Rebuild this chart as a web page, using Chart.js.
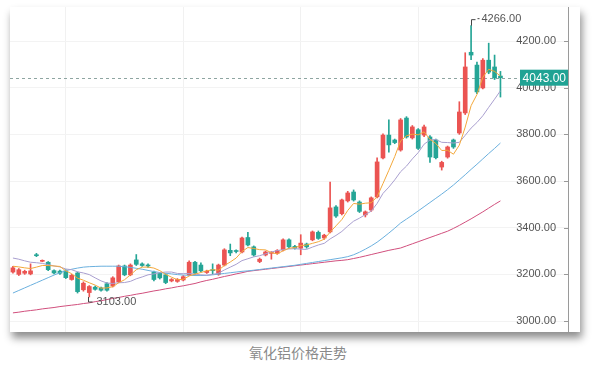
<!DOCTYPE html>
<html>
  <head>
    <meta charset="utf-8" />
    <title>氧化铝价格走势</title>
    <script src="https://cdn.jsdelivr.net/npm/chart.js"></script>
    <style>
      body {
        margin: 0;
        width: 596px;
        height: 369px;
        background: #fff;
        position: relative;
        overflow: hidden;
      }
      .card {
        position: absolute;
        left: 10px;
        top: 7px;
        width: 570px;
        height: 325px;
        background: #fff;
        box-shadow: 2px 6px 8px rgba(0, 0, 0, 0.45);
      }
      .caption {
        position: absolute;
        left: 0;
        width: 596px;
        top: 342px;
        text-align: center;
        font-family: 'Noto Sans CJK SC', sans-serif;
        font-size: 14px;
        color: #8a8a8a;
      }
    </style>
  </head>
  <body>
    <div class="card">
      <canvas id="priceChart" width="570" height="325"></canvas>
    </div>
    <div class="caption">氧化铝价格走势</div>

    <script>
      // daily candles
      const open = [3210, 3200, 3205, 3202, 3284, 3256, 3252, 3216, 3214, 3215, 3178, 3206, 3134, 3122, 3145, 3142, 3160, 3150, 3168, 3236, 3198, 3262, 3245, 3240, 3210, 3205, 3198, 3172, 3170, 3176, 3198, 3252, 3240, 3208, 3220, 3200, 3240, 3303, 3300, 3296, 3358, 3318, 3255, 3283, 3290, 3290, 3305, 3348, 3320, 3312, 3330, 3348, 3380, 3356, 3382, 3489, 3460, 3515, 3553, 3510, 3455, 3476, 3532, 3699, 3797, 3776, 3733, 3870, 3785, 3820, 3797, 3789, 3776, 3660, 3703, 3776, 3806, 3892, 4152, 4097, 3999, 4118, 4089, 4050];
      const high = [3235, 3225, 3218, 3245, 3290, 3262, 3255, 3220, 3218, 3220, 3200, 3210, 3168, 3152, 3150, 3146, 3165, 3190, 3240, 3240, 3245, 3285, 3250, 3245, 3214, 3208, 3203, 3182, 3182, 3195, 3258, 3256, 3250, 3218, 3245, 3244, 3310, 3330, 3305, 3360, 3380, 3322, 3270, 3300, 3298, 3306, 3352, 3352, 3325, 3370, 3334, 3386, 3386, 3372, 3596, 3495, 3523, 3556, 3562, 3515, 3472, 3532, 3700, 3802, 3862, 3780, 3868, 3876, 3838, 3825, 3840, 3795, 3780, 3685, 3750, 3780, 3940, 4150, 4266, 4110, 4125, 4191, 4140, 4070];
      const low = [3205, 3195, 3200, 3198, 3276, 3254, 3216, 3202, 3200, 3182, 3175, 3120, 3128, 3103, 3132, 3128, 3128, 3146, 3164, 3194, 3194, 3238, 3234, 3230, 3172, 3180, 3160, 3168, 3166, 3172, 3194, 3200, 3210, 3204, 3200, 3196, 3236, 3280, 3292, 3292, 3322, 3278, 3250, 3279, 3265, 3286, 3300, 3312, 3308, 3284, 3312, 3344, 3350, 3350, 3378, 3444, 3455, 3510, 3514, 3465, 3446, 3470, 3528, 3695, 3724, 3760, 3728, 3784, 3780, 3735, 3790, 3680, 3695, 3647, 3698, 3740, 3800, 3885, 4120, 3975, 3995, 4060, 4035, 3960];
      const close = [3228, 3220, 3213, 3215, 3280, 3260, 3220, 3206, 3205, 3186, 3196, 3126, 3162, 3148, 3136, 3132, 3132, 3185, 3236, 3198, 3240, 3243, 3238, 3236, 3178, 3185, 3165, 3178, 3178, 3190, 3252, 3205, 3215, 3214, 3216, 3240, 3305, 3292, 3298, 3356, 3326, 3283, 3265, 3296, 3294, 3302, 3348, 3318, 3312, 3334, 3318, 3382, 3354, 3368, 3485, 3450, 3519, 3549, 3519, 3470, 3468, 3528, 3682, 3797, 3755, 3765, 3862, 3789, 3832, 3740, 3832, 3703, 3700, 3680, 3746, 3746, 3896, 4089, 4140, 3982, 4118, 4067, 4042, 4043];

      // moving average lines
      const ma5 = [3235, 3232, 3228, 3225, 3231, 3238, 3238, 3236, 3234, 3215, 3203, 3184, 3175, 3164, 3154, 3141, 3142, 3147, 3164, 3177, 3198, 3220, 3231, 3231, 3227, 3216, 3200, 3188, 3177, 3179, 3193, 3201, 3208, 3215, 3220, 3218, 3238, 3253, 3270, 3298, 3315, 3311, 3306, 3305, 3293, 3288, 3301, 3312, 3315, 3323, 3326, 3333, 3340, 3351, 3381, 3408, 3435, 3474, 3504, 3501, 3505, 3507, 3533, 3589, 3646, 3705, 3772, 3794, 3801, 3798, 3811, 3779, 3761, 3731, 3732, 3715, 3754, 3831, 3923, 3971, 4045, 4079, 4070, 4050];
      const ma10 = [3270, 3265, 3258, 3252, 3250, 3247, 3242, 3236, 3232, 3223, 3220, 3211, 3206, 3199, 3185, 3172, 3163, 3161, 3164, 3165, 3170, 3181, 3189, 3198, 3202, 3207, 3210, 3210, 3204, 3203, 3204, 3201, 3198, 3196, 3200, 3205, 3219, 3231, 3243, 3259, 3267, 3275, 3280, 3288, 3296, 3302, 3306, 3309, 3310, 3308, 3307, 3317, 3326, 3333, 3352, 3367, 3384, 3407, 3428, 3441, 3456, 3471, 3504, 3547, 3574, 3605, 3640, 3664, 3695, 3722, 3758, 3776, 3778, 3766, 3765, 3763, 3766, 3796, 3827, 3851, 3880, 3916, 3951, 3987];
      const ma20 = [3120, 3131, 3142, 3153, 3164, 3175, 3186, 3197, 3207, 3216, 3222, 3227, 3231, 3233, 3234, 3235, 3235, 3235, 3235, 3233, 3230, 3226, 3222, 3217, 3212, 3208, 3205, 3202, 3199, 3197, 3196, 3195, 3195, 3196, 3198, 3201, 3204, 3207, 3210, 3213, 3215, 3218, 3221, 3224, 3227, 3230, 3233, 3236, 3239, 3243, 3247, 3251, 3255, 3259, 3263, 3267, 3271, 3276, 3284, 3295, 3308, 3322, 3338, 3357, 3377, 3398, 3420, 3437, 3454, 3472, 3490, 3508, 3526, 3544, 3563, 3583, 3605, 3627, 3650, 3672, 3695, 3718, 3740, 3763];
      const ma60 = [3035, 3038, 3042, 3045, 3048, 3052, 3055, 3058, 3062, 3065, 3068, 3071, 3075, 3078, 3083, 3087, 3092, 3097, 3101, 3106, 3110, 3115, 3119, 3124, 3129, 3133, 3138, 3142, 3147, 3151, 3156, 3161, 3168, 3174, 3179, 3185, 3191, 3196, 3202, 3207, 3213, 3216, 3219, 3222, 3225, 3228, 3231, 3234, 3237, 3240, 3243, 3246, 3249, 3252, 3255, 3258, 3260, 3263, 3268, 3273, 3279, 3285, 3291, 3297, 3303, 3308, 3313, 3322, 3331, 3340, 3349, 3358, 3367, 3376, 3385, 3397, 3410, 3424, 3438, 3453, 3468, 3484, 3500, 3515];

      // 84 trading days plus empty room on the right
      const categories = Array.from({ length: 95 }, (_, i) => String(i + 1));
      const yTicks = [3000, 3200, 3400, 3600, 3800, 4000, 4200];
      const xGridAt = [9, 29, 49, 69];

      const UP = '#eb5452';
      const DOWN = '#25a596';
      const candleColors = close.map((c, i) => (c >= open[i] ? UP : DOWN));

      const markers = {
        id: 'markers',
        beforeDatasetsDraw(chart) {
          const { ctx, chartArea, scales } = chart;
          const last = close[close.length - 1];
          const y = Math.round(scales.y.getPixelForValue(last)) + 0.5;
          ctx.save();
          ctx.strokeStyle = '#8ea5a1';
          ctx.lineWidth = 1;
          ctx.setLineDash([3, 3]);
          ctx.beginPath();
          ctx.moveTo(chartArea.left, y);
          ctx.lineTo(chartArea.right, y);
          ctx.stroke();
          ctx.restore();
        },
        afterDraw(chart) {
          const { ctx, chartArea, scales } = chart;
          ctx.save();
          ctx.font = '11px "Liberation Sans", Arial, sans-serif';
          ctx.fillStyle = '#555';
          ctx.strokeStyle = '#444';
          ctx.lineWidth = 1;
          ctx.textBaseline = 'middle';

          // highest high
          const hi = Math.max(...high);
          const hx = Math.round(scales.x.getPixelForValue(high.indexOf(hi))) + 0.5;
          const hy = scales.y.getPixelForValue(hi);
          ctx.beginPath();
          ctx.moveTo(hx, hy);
          ctx.lineTo(hx, hy - 6);
          ctx.lineTo(hx + 4, hy - 6);
          ctx.moveTo(hx + 6, hy - 7);
          ctx.lineTo(hx + 8, hy - 7);
          ctx.stroke();
          ctx.fillText(hi.toFixed(2), hx + 10, hy - 7);

          // lowest low
          const lo = Math.min(...low);
          const lx = Math.round(scales.x.getPixelForValue(low.indexOf(lo))) + 0.5;
          const ly = scales.y.getPixelForValue(lo);
          ctx.beginPath();
          ctx.moveTo(lx - 1, ly);
          ctx.lineTo(lx - 1, ly + 5);
          ctx.lineTo(lx + 3, ly + 5);
          ctx.stroke();
          ctx.fillText(lo.toFixed(2), lx + 7, ly + 5);

          // tick marks on the inside of the right axis
          ctx.strokeStyle = '#999';
          yTicks.forEach((v) => {
            const ty = Math.round(scales.y.getPixelForValue(v)) + 0.5;
            ctx.beginPath();
            ctx.moveTo(chartArea.right - 4, ty);
            ctx.lineTo(chartArea.right, ty);
            ctx.stroke();
          });

          // last price tag
          const last = close[close.length - 1];
          const py = scales.y.getPixelForValue(last);
          ctx.fillStyle = '#20a394';
          ctx.fillRect(chartArea.right - 48, py - 8, 48, 16);
          ctx.fillStyle = '#fff';
          ctx.font = '12px "Liberation Sans", Arial, sans-serif';
          ctx.textAlign = 'right';
          ctx.fillText(last.toFixed(2), chartArea.right - 2, py + 0.5);
          ctx.restore();
        },
      };

      const ctx = document.getElementById('priceChart').getContext('2d');
      const chart = new Chart(ctx, {
        type: 'bar',
        data: {
          labels: categories,
          datasets: [
            { type: 'line', label: 'MA5', data: ma5, borderColor: '#f3a83b', borderWidth: 1, pointRadius: 0, order: 0 },
            { type: 'line', label: 'MA10', data: ma10, borderColor: '#a99fcf', borderWidth: 1, pointRadius: 0, order: 0 },
            { type: 'line', label: 'MA20', data: ma20, borderColor: '#6bb0de', borderWidth: 1, pointRadius: 0, order: 0 },
            { type: 'line', label: 'MA60', data: ma60, borderColor: '#d14f7d', borderWidth: 1, pointRadius: 0, order: 0 },
            {
              label: 'wick',
              data: low.map((l, i) => [l, high[i]]),
              backgroundColor: candleColors,
              barThickness: 1,
              grouped: false,
              order: 2,
            },
            {
              label: 'body',
              data: open.map((o, i) => [o, close[i]]),
              backgroundColor: candleColors,
              barThickness: 4,
              minBarLength: 1,
              grouped: false,
              order: 1,
            },
          ],
        },
        options: {
          responsive: false,
          animation: false,
          layout: { padding: 0 },
          plugins: {
            legend: { display: false },
            tooltip: { enabled: false },
          },
          scales: {
            x: {
              offset: true,
              ticks: { display: false },
              border: { display: false },
              grid: {
                offset: false,
                drawTicks: false,
                color: (c) => (xGridAt.includes(c.index) ? '#f1f1f1' : 'rgba(0,0,0,0)'),
              },
              afterFit: (scale) => {
                scale.height = 0;
              },
            },
            y: {
              position: 'right',
              min: 2953,
              max: 4346,
              afterBuildTicks: (scale) => {
                scale.ticks = yTicks.map((v) => ({ value: v }));
              },
              afterFit: (scale) => {
                scale.width = 12;
                scale.paddingTop = 0;
                scale.paddingBottom = 0;
              },
              ticks: {
                mirror: true,
                padding: -12,
                color: '#555',
                font: { family: '"Liberation Sans", Arial, sans-serif', size: 11 },
                callback: (v) => Number(v).toFixed(2),
              },
              grid: { color: '#f3f3f3', drawTicks: false },
              border: { display: true, color: '#9a9a9a' },
            },
          },
        },
        plugins: [markers],
      });
    </script>
  </body>
</html>
